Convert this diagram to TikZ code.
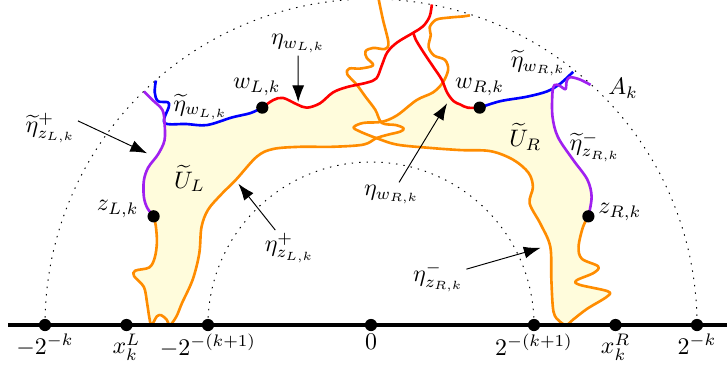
\documentclass[tikz,border=0pt]{standalone}
\usepackage{amsmath,amssymb}
\usepackage{tikz}
\usetikzlibrary{arrows.meta}
\definecolor{cream}{RGB}{255,252,220}
\definecolor{dorange}{RGB}{255,140,0}
\definecolor{dviolet}{RGB}{160,32,240}

\begin{document}
\begin{tikzpicture}[scale=1.6, >={Latex[length=7pt,width=5pt]},
  curve/.style={line width=1.1pt, line join=round},
  lab/.style={inner sep=1pt}]
\useasboundingbox (-3.414,-0.414) rectangle (3.276,2.991);
\coordinate (zL) at (-2,1);
\coordinate (zR) at (2,1);
\coordinate (wL) at (-1,2);
\coordinate (wR) at (1,2);
% the two domains
\fill[cream] plot[smooth,tension=.55] coordinates {(zL) (-2.06,1.08) (-2.09,1.18) (-2.09,1.33) (-2.05,1.45) (-1.96,1.57) (-1.90,1.70) (-1.90,1.86)}
  -- plot[smooth,tension=.55] coordinates {(-1.90,1.86) (-1.70,1.85) (-1.51,1.84) (-1.28,1.91) (-1.11,1.95) (wL) (-0.90,2.07) (-0.81,2.09) (-0.68,2.03) (-0.59,2.00) (-0.47,2.04) (-0.35,2.14) (-0.22,2.19) (-0.13,2.21)}
  -- plot[smooth,tension=.55] coordinates {(-0.13,2.21) (-0.05,2.10) (0.04,1.98) (0.10,1.86)}
  -- plot[smooth,tension=.55] coordinates {(0.10,1.87) (0.24,1.93) (0.42,2.07) (0.57,2.14) (0.66,2.22)}
  -- plot[smooth,tension=.55] coordinates {(0.66,2.22) (0.70,2.14) (0.76,2.06) (0.82,2.03) (0.89,2.00) (wR) (1.19,2.06) (1.43,2.10) (1.62,2.15) (1.67,2.14)}
  -- plot[smooth,tension=.55] coordinates {(1.67,2.14) (1.67,1.92) (1.72,1.73) (1.86,1.52) (1.99,1.34) (2.03,1.18) (zR) (1.95,0.90) (1.91,0.72) (1.94,0.61) (2.09,0.54) (2.05,0.48) (1.89,0.41) (1.92,0.37) (2.18,0.31) (2.17,0.26) (1.99,0.15) (1.86,0.05) (1.80,0) (1.74,0.03) (1.68,0.12) (1.66,0.41) (1.65,0.72) (1.56,0.93) (1.46,1.12) (1.49,1.27) (1.45,1.40) (1.31,1.52) (1.10,1.60) (0.82,1.61) (0.54,1.63) (0.24,1.66) (0.05,1.72)}
  -- plot[smooth,tension=.55] coordinates {(0.05,1.72) (-0.07,1.66) (-0.36,1.64) (-0.65,1.64) (-0.90,1.62) (-1.05,1.55) (-1.24,1.34) (-1.38,1.20) (-1.50,1.06) (-1.56,0.90) (-1.58,0.66) (-1.64,0.42) (-1.74,0.20) (-1.79,0.08) (-1.85,0) (-1.88,0.05) (-1.93,0.09) (-1.97,0.08) (-2.02,0) (-2.04,0.07) (-2.06,0.20) (-2.09,0.35) (-2.18,0.45) (-2.17,0.50) (-2.04,0.53) (-1.99,0.62) (-1.97,0.76) (-1.98,0.91) (zL)}
  -- cycle;
\fill[white] plot[smooth cycle,tension=.55] coordinates {(0.05,1.72) (0.15,1.75) (0.27,1.78) (0.30,1.81) (0.23,1.84) (0.10,1.86) (-0.07,1.86) (-0.16,1.82) (-0.10,1.78)};
\foreach \r in {1.5,3} {
  \draw[dash pattern=on 0.6pt off 2.5pt] (-\r,0) arc (180:0:\r);
}
% the curves
\draw[curve, dorange] plot[smooth,tension=.55] coordinates {(zL) (-1.98,0.91) (-1.97,0.76) (-1.99,0.62) (-2.04,0.53) (-2.17,0.50) (-2.18,0.45) (-2.09,0.35) (-2.06,0.20) (-2.04,0.07) (-2.02,0) (-1.97,0.08) (-1.93,0.09) (-1.88,0.05) (-1.85,0) (-1.79,0.08) (-1.74,0.20) (-1.64,0.42) (-1.58,0.66) (-1.56,0.90) (-1.50,1.06) (-1.38,1.20) (-1.24,1.34) (-1.05,1.55) (-0.90,1.62) (-0.65,1.64) (-0.36,1.64) (-0.07,1.66) (0.05,1.72) (0.15,1.75) (0.27,1.78) (0.30,1.81) (0.23,1.84) (0.10,1.86) (0.04,1.98) (-0.05,2.10) (-0.13,2.21) (-0.22,2.31) (-0.20,2.36) (-0.10,2.36) (0.02,2.39) (-0.04,2.46) (-0.05,2.52) (0.02,2.55) (0.13,2.54) (0.16,2.60) (0.11,2.81) (0.07,3.0)};
\draw[curve, dorange] plot[smooth,tension=.55] coordinates {(zR) (1.95,0.90) (1.91,0.72) (1.94,0.61) (2.09,0.54) (2.05,0.48) (1.89,0.41) (1.92,0.37) (2.18,0.31) (2.17,0.26) (1.99,0.15) (1.86,0.05) (1.80,0) (1.74,0.03) (1.68,0.12) (1.66,0.41) (1.65,0.72) (1.56,0.93) (1.46,1.12) (1.49,1.27) (1.45,1.40) (1.31,1.52) (1.10,1.60) (0.82,1.61) (0.54,1.63) (0.24,1.66) (0.05,1.72) (-0.10,1.78) (-0.16,1.82) (-0.07,1.86) (0.10,1.87) (0.24,1.93) (0.42,2.07) (0.57,2.14) (0.66,2.23) (0.71,2.35) (0.68,2.44) (0.58,2.48) (0.53,2.56) (0.55,2.67) (0.54,2.74) (0.60,2.81) (0.73,2.83) (0.85,2.84) (0.91,2.85)};
\draw[curve, red] plot[smooth,tension=.55] coordinates {(wL) (-0.90,2.07) (-0.81,2.09) (-0.68,2.03) (-0.59,2.00) (-0.47,2.04) (-0.35,2.14) (-0.22,2.19) (-0.04,2.23) (0.05,2.27) (0.10,2.39) (0.15,2.51) (0.24,2.60) (0.39,2.69) (0.48,2.75) (0.54,2.84) (0.56,2.95)};
\draw[curve, red] plot[smooth,tension=.55] coordinates {(wR) (0.89,2.00) (0.82,2.03) (0.76,2.06) (0.70,2.14) (0.65,2.26) (0.57,2.38) (0.47,2.53) (0.41,2.63) (0.39,2.69)};
\draw[curve, blue] plot[smooth,tension=.55] coordinates {(wL) (-1.11,1.95) (-1.28,1.91) (-1.51,1.84) (-1.70,1.85) (-1.90,1.86) (-1.86,2.01) (-1.87,2.05) (-1.96,2.06) (-1.99,2.14) (-1.98,2.25)};
\draw[curve, blue] plot[smooth,tension=.55] coordinates {(wR) (1.19,2.06) (1.43,2.10) (1.62,2.15) (1.74,2.22) (1.86,2.33)};
\draw[curve, dviolet] plot[smooth,tension=.55] coordinates {(-2.09,2.15) (-2.01,2.07) (-1.92,1.98) (-1.90,1.86) (-1.90,1.70) (-1.96,1.57) (-2.05,1.45) (-2.09,1.33) (-2.09,1.18) (-2.06,1.08) (zL)};
\draw[curve, dviolet] plot[smooth,tension=.55] coordinates {(2.02,2.21) (1.92,2.26) (1.83,2.28) (1.80,2.24) (1.79,2.17) (1.74,2.20) (1.69,2.21) (1.67,2.14) (1.67,1.92) (1.72,1.73) (1.86,1.52) (1.99,1.34) (2.03,1.18) (zR)};
% the real line
\draw[line width=1.4pt] (-3.34,0) -- (3.3,0);
\foreach \x/\lab [count=\i] in {-3/-2^{-k}, -2.25/x_k^L, -1.5/-2^{-(k+1)}, 0/0, 1.5/2^{-(k+1)}, 2.25/x_k^R, 3/2^{-k}} {
  \fill (\x,0) circle (1.6pt) node[below=2.5pt, inner sep=1pt] (t\i) {$\lab$};
}
\foreach \p in {zL,zR,wL,wR} {
  \fill (\p) circle (1.6pt);
}
% labels
\node[lab] (lwL) at (-1.05,2.19) {$w_{L,k}$};
\node[lab] (lwR) at (1.00,2.19) {$w_{R,k}$};
\node[lab] (lzL) at (-2.33,1.07) {$z_{L,k}$};
\node[lab] (lzR) at (2.29,1.04) {$z_{R,k}$};
\node[lab] (lUL) at (-1.67,1.35) {$\widetilde{U}_L$};
\node[lab] (lUR) at (1.42,1.73) {$\widetilde{U}_R$};
\node[lab] (lAk) at (2.32,2.18) {$A_k$};
\node[lab] (ltwL) at (-1.57,2.01) {$\widetilde{\eta}_{w_{L,k}}$};
\node[lab] (ltwR) at (1.54,2.41) {$\widetilde{\eta}_{w_{R,k}}$};
\node[lab] (ltzR) at (2.06,1.64) {$\widetilde{\eta}^{-}_{z_{R,k}}$};
\node[lab] (ltzL) at (-2.95,1.81) {$\widetilde{\eta}^{+}_{z_{L,k}}$};
\node[lab] (lewL) at (-0.67,2.59) {$\eta_{w_{L,k}}$};
\node[lab] (lewR) at (0.19,1.20) {$\eta_{w_{R,k}}$};
\node[lab] (lezL) at (-0.75,0.71) {$\eta^{+}_{z_{L,k}}$};
\node[lab] (lezR) at (0.62,0.44) {$\eta^{-}_{z_{R,k}}$};
\coordinate (hewL) at (-0.67,2.05);
\coordinate (htzL) at (-2.06,1.58);
\coordinate (hezL) at (-1.22,1.30);
\coordinate (hewR) at (0.70,2.04);
\coordinate (hezR) at (1.56,0.71);
\draw[->] (lewL) -- (hewL);
\draw[->] (ltzL.15) -- (htzL);
\draw[->] (lezL) -- (hezL);
\draw[->] (lewR) -- (hewR);
\draw[->] (lezR) -- (hezR);
\end{tikzpicture}
\end{document}
